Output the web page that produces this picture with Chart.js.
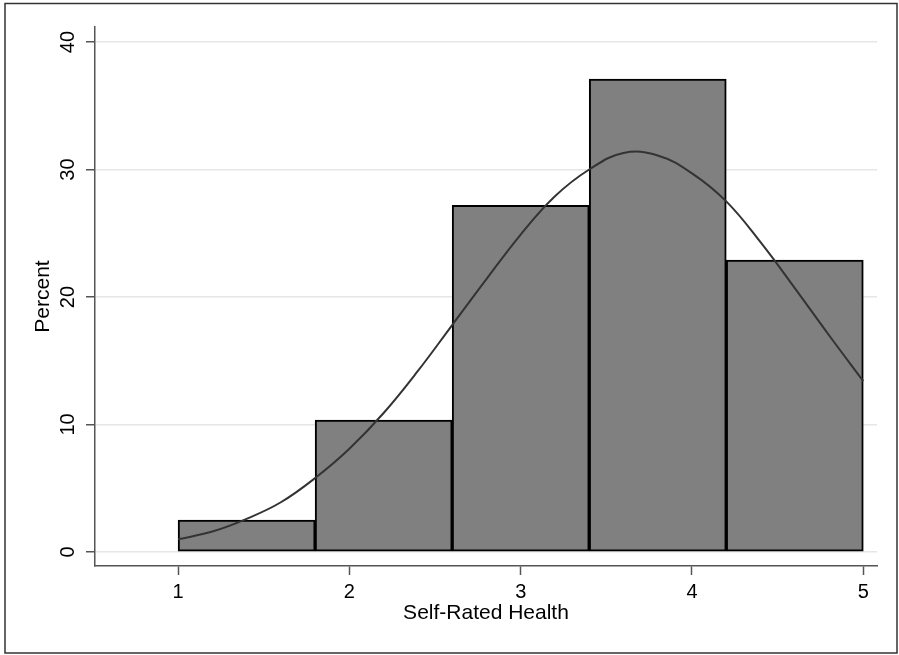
<!DOCTYPE html>
<html>
<head>
<meta charset="utf-8">
<script src="https://cdn.jsdelivr.net/npm/chart.js@4/dist/chart.umd.min.js"></script>
<style>
	html, body { margin: 0; padding: 0; background: #fff; }
	#wrap { width: 899px; height: 655px; }
</style>
</head>
<body>
<div id="wrap"><canvas id="hist" width="899" height="655"></canvas></div>
<script>
// histogram bins (centres, width 0.8) and heights in percent
const binCentres = [1.4, 2.2, 3.0, 3.8, 4.6];
const binPercent = [2.5, 10.35, 27.2, 37.1, 22.9];

// normal density overlay
const curveX = [1.0, 1.2, 1.4, 1.6, 1.8, 2.0, 2.2, 2.4, 2.6, 2.8, 3.0, 3.2, 3.4, 3.6, 3.8, 4.0, 4.2, 4.4, 4.6, 4.8, 5.0];
const curveY = [1.0, 1.6, 2.6, 3.9, 5.8, 8.1, 10.9, 14.2, 17.8, 21.4, 24.9, 27.9, 30.0, 31.3, 31.1, 29.7, 27.5, 24.3, 20.7, 17.0, 13.4];

const xTicks = [1, 2, 3, 4, 5];
const yTicks = [0, 10, 20, 30, 40];

Chart.defaults.font.family = "'Liberation Sans', Arial, sans-serif";
Chart.defaults.font.size = 20;
Chart.defaults.color = '#000';

const frame = {
	id: 'frame',
	afterDraw(chart) {
		const ctx = chart.ctx;
		ctx.save();
		ctx.strokeStyle = '#333';
		ctx.lineWidth = 1.5;
		ctx.strokeRect(5, 3.5, 892, 649.5);
		ctx.restore();
	}
};

const histConfig = {
	type: 'bar',
	data: {
		datasets: [{
			type: 'line',
			data: curveX.map((x, i) => ({x: x, y: curveY[i]})),
			borderColor: '#333',
			borderWidth: 2,
			pointRadius: 0,
			tension: 0.4,
			fill: false,
			order: 0,
		}, {
			type: 'bar',
			data: binCentres.map((x, i) => ({x: x, y: binPercent[i]})),
			backgroundColor: '#808080',
			borderColor: '#000',
			borderWidth: 2,
			borderSkipped: false,
			categoryPercentage: 1,
			barPercentage: 1,
			order: 1,
		}
	]},
	options : {
		responsive: false,
		animation: false,
		layout: {
			padding: {top: 27, right: 22, left: 0, bottom: 0},
		},
		plugins: {
			legend: {display: false},
			tooltip: {enabled: false},
		},
		scales: {
			x: {
				type: 'linear',
				offset: false,
				min: 0.515,
				max: 5.08,
				afterBuildTicks: (s) => { s.ticks = xTicks.map(v => ({value: v})); },
				afterFit: (s) => { s.height = 89; },
				grid: {
					offset: false,
					drawOnChartArea: false,
					tickLength: 9,
					tickColor: '#555',
					tickWidth: 1.5,
				},
				border: {color: '#555', width: 1.5},
				ticks: {padding: 5, color: '#000'},
				title: {
					display: true,
					text: 'Self-Rated Health',
					font: {size: 21},
					padding: {top: 0, bottom: 29},
				},
			},
			y: {
				min: -1.1,
				max: 41.18,
				afterBuildTicks: (s) => { s.ticks = yTicks.map(v => ({value: v})); },
				afterFit: (s) => { s.width = 95; },
				grid: {
					color: '#e6e6e6',
					lineWidth: 1.5,
					tickLength: 9,
					tickColor: '#555',
					tickWidth: 1.5,
				},
				border: {color: '#555', width: 1.5},
				ticks: {
					minRotation: 90,
					maxRotation: 90,
					crossAlign: 'center',
					padding: 6,
					color: '#000',
				},
				title: {
					display: true,
					text: 'Percent',
					font: {size: 21},
					padding: {top: 31, bottom: 0},
				},
			}
		},
	},
	plugins: [frame],
};

const histCtx = document.getElementById('hist');
const histPlot = new Chart(histCtx, histConfig);
</script>
</body>
</html>
